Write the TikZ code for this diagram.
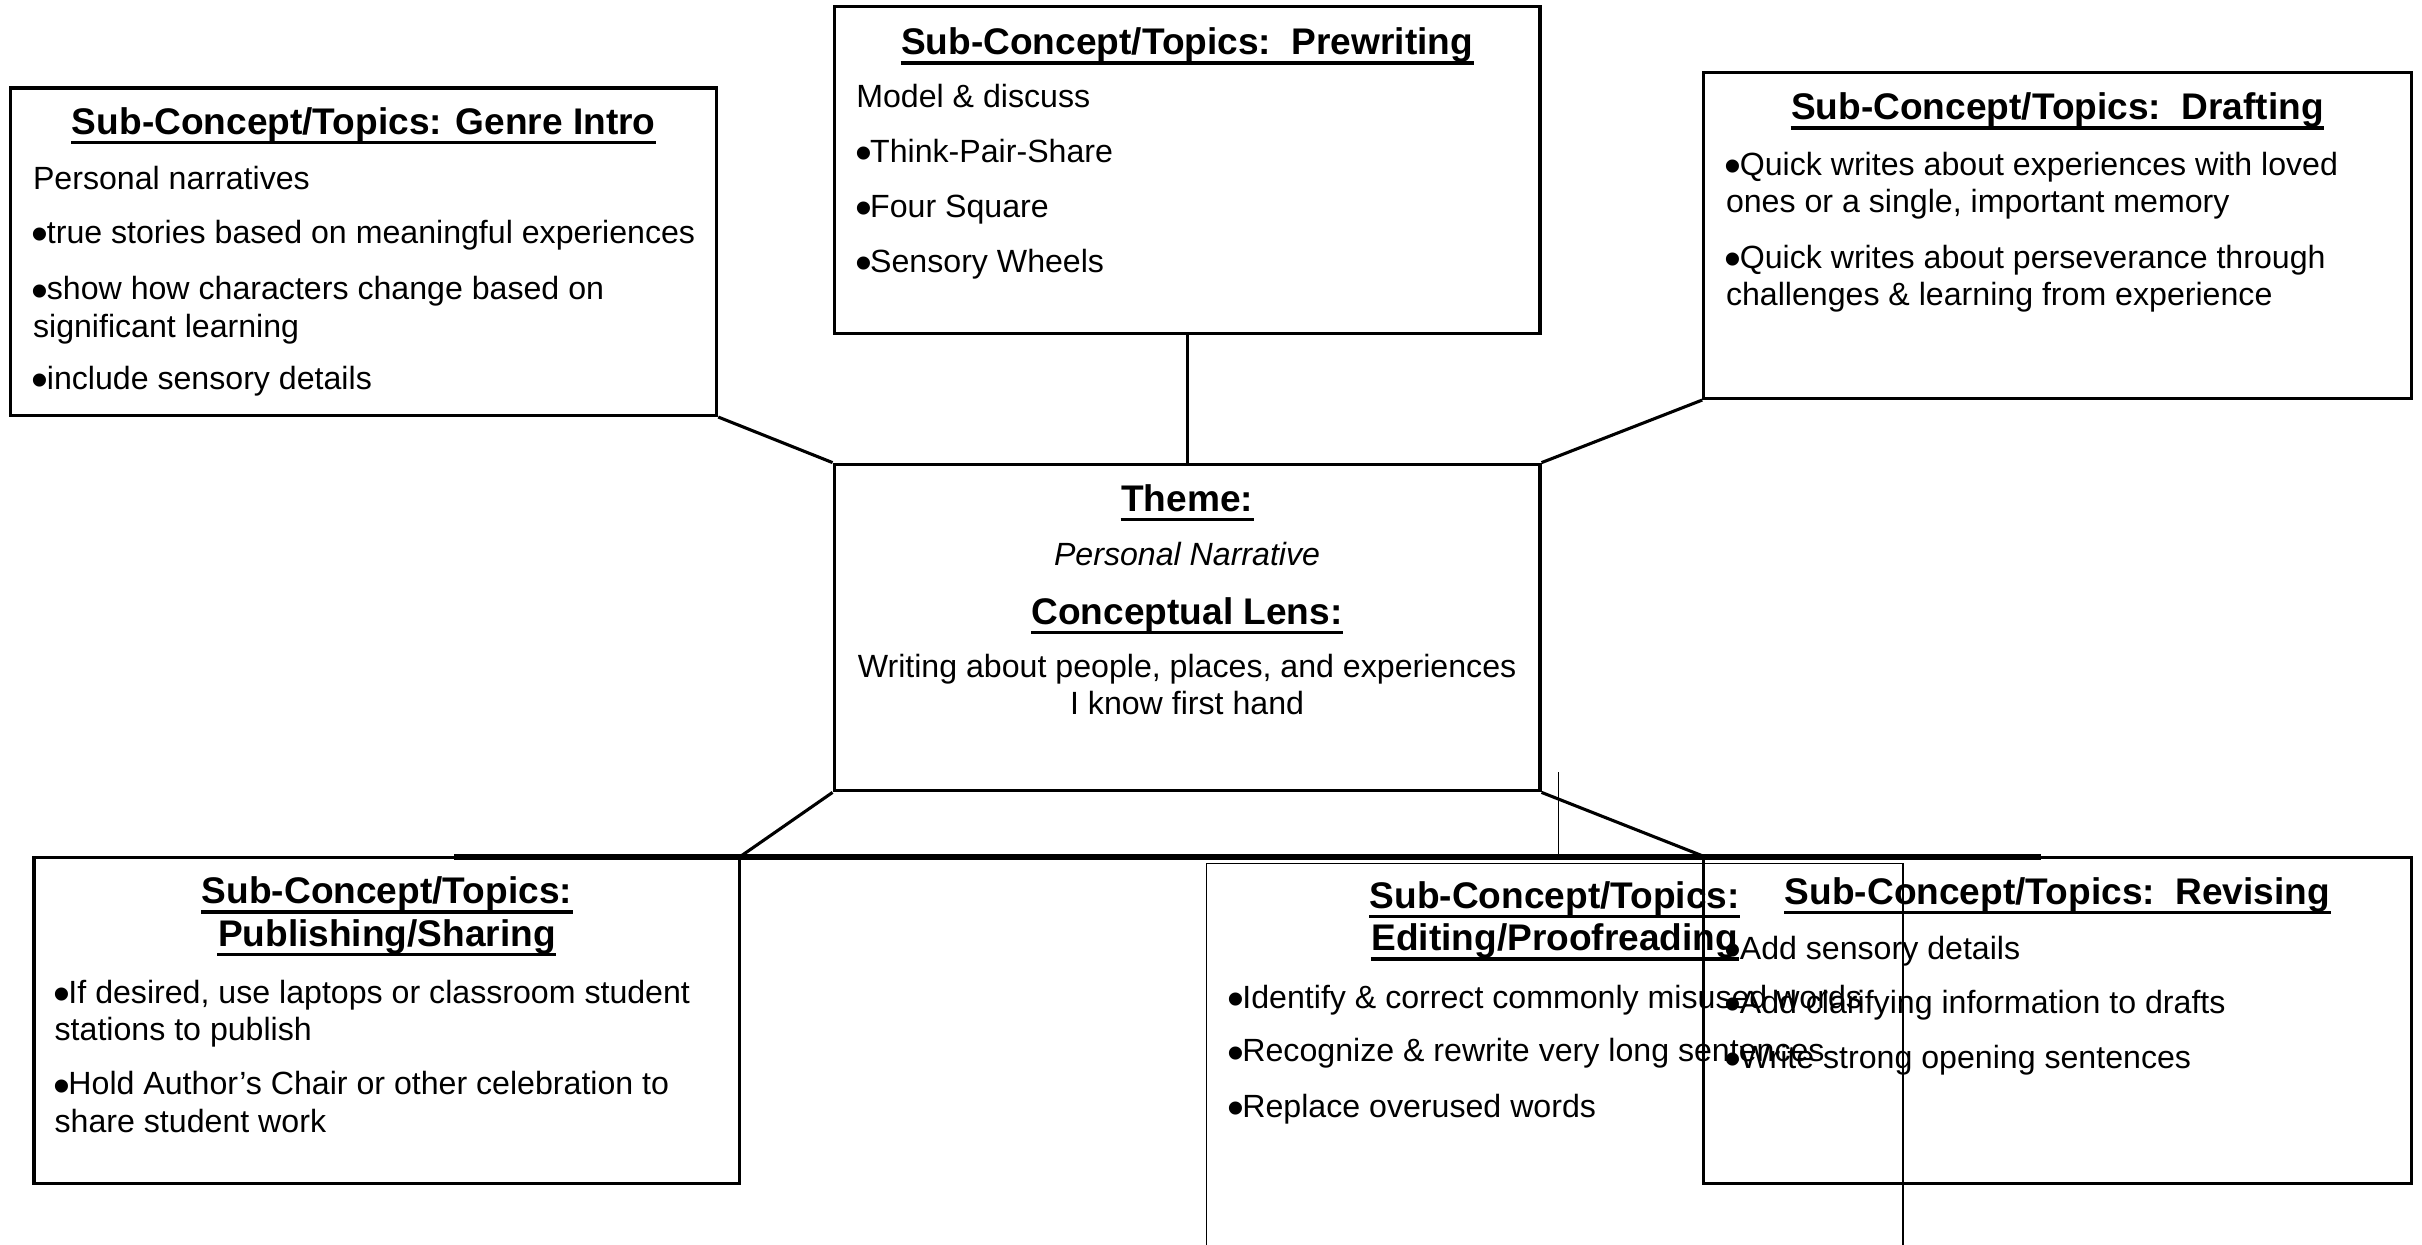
\documentclass[tikz,border=0pt]{standalone}
\usepackage{fontspec}
\setmainfont{Liberation Sans}
\usetikzlibrary{fit}

\newcommand{\headfont}{\fontsize{12}{13.8}\selectfont\bfseries}
\newcommand{\bodyfont}{\fontsize{10.4}{12}\selectfont}
% larger list bullet, centred on the x-height
\newcommand{\bul}{\makebox[0.43em][l]{\hspace{-0.04em}\raisebox{-2.3pt}{\scalebox{1.5}{•}}}}

\tikzset{
  frame/.style={draw=black, line width=1pt, inner sep=0pt},
  thinframe/.style={draw=black, line width=0.5pt},
  link/.style={draw=black, line width=1pt},
  heading/.style={anchor=base, inner sep=0pt, font=\headfont, yshift=-0.5pt},
  body/.style={anchor=base west, inner sep=0pt, font=\bodyfont, yshift=-0.6pt},
  cbody/.style={anchor=base, inner sep=0pt, font=\bodyfont, yshift=-0.6pt},
  underrule/.style={draw=black, line width=1.1pt},
}

\begin{document}
\begin{tikzpicture}[x=0.5pt, y=-0.5pt]
\useasboundingbox (0,0) rectangle (1568,806);
\clip (0,0) rectangle (1568,806);

% ---- boxes ----
\node[frame, fit={(7,57) (464,269)}] (genre) {};
\node[frame, fit={(540,4.5) (997,216)}] (prew) {};
\node[frame, fit={(1103,47) (1561,258)}] (draft) {};
\node[frame, fit={(540,300.5) (997,512)}] (theme) {};
\node[frame, fit={(22,555) (479,766)}] (publ) {};
\node[frame, fit={(1103,555) (1561,766)}] (revis) {};

% ---- editing box: thin outline running off the lower edge ----
\coordinate (edBL) at (781,830);
\coordinate (edTL) at (781,559);
\coordinate (edTR) at (1232,559);
\coordinate (edBR) at (1232,830);
\draw[thinframe] (edBL) -- (edTL) -- (edTR) -- (edBR);

% ---- connectors ----
\draw[link] (genre.south east) -- (theme.north west);
\draw[link] (prew.south) -- (theme.north);
\draw[link] (draft.south west) -- (theme.north east);
\draw[link] (theme.south west) -- (publ.north east);
\draw[link] (theme.south east) -- (revis.north west);

% heavy rule across the lower row and a short thin tick
\coordinate (ruleL) at (294,555);
\coordinate (ruleR) at (1321,555);
\draw[black, line width=1.8pt] (ruleL) -- (ruleR);
\coordinate (tickT) at (1009,500);
\coordinate (tickB) at (1009,554);
\draw[thinframe] (tickT) -- (tickB);

% ---- Genre Intro ----
\node[heading] (genreH) at (235.5,86) {Sub-Concept/Topics: Genre Intro};
\node[body] (g1) at (21,121.5) {Personal narratives};
\node[body] (g2) at (21,156.5) {\bul true stories based on meaningful experiences};
\node[body] (g3) at (21,193) {\bul show how characters change based on};
\node[body] (g4) at (21,217) {significant learning};
\node[body] (g5) at (21,251) {\bul include sensory details};

% ---- Prewriting ----
\node[heading] (prewH) at (768.5,34.5) {Sub-Concept/Topics:\ \ Prewriting};
\node[body] (p1) at (554,68.5) {Model \& discuss};
\node[body] (p2) at (554,104) {\bul Think-Pair-Share};
\node[body] (p3) at (554,139.5) {\bul Four Square};
\node[body] (p4) at (554,175) {\bul Sensory Wheels};

% ---- Drafting ----
\node[heading] (draftH) at (1332,76.5) {Sub-Concept/Topics:\ \ Drafting};
\node[body] (d1) at (1117,112.5) {\bul Quick writes about experiences with loved};
\node[body] (d2) at (1117,136.5) {ones or a single, important memory};
\node[body] (d3) at (1117,172.5) {\bul Quick writes about perseverance through};
\node[body] (d4) at (1117,196.5) {challenges \& learning from experience};

% ---- Theme ----
\node[heading] (themeH) at (768.5,330) {Theme:};
\node[cbody, font=\bodyfont\itshape] (t1) at (768.5,364.7) {Personal Narrative};
\node[heading] (lensH) at (768.5,403) {Conceptual Lens:};
\node[cbody] (t2) at (768.5,437.7) {Writing about people, places, and experiences};
\node[cbody] (t3) at (768.5,461.5) {I know first hand};

% ---- Publishing/Sharing ----
\node[heading] (publH1) at (250.5,584) {Sub-Concept/Topics:};
\node[heading] (publH2) at (250.5,611.8) {Publishing/Sharing};
\node[body] (s1) at (35,648.5) {\bul If desired, use laptops or classroom student};
\node[body] (s2) at (35,672.5) {stations to publish};
\node[body] (s3) at (35,707.7) {\bul Hold Author’s Chair or other celebration to};
\node[body] (s4) at (35,731.7) {share student work};

% ---- Editing/Proofreading ----
\node[heading] (editH1) at (1006.5,587) {Sub-Concept/Topics:};
\node[heading] (editH2) at (1006.5,614.5) {Editing/Proofreading};
\node[body] (e1) at (795,651.7) {\bul Identify \& correct commonly misused words};
\node[body] (e2) at (795,686.3) {\bul Recognize \& rewrite very long sentences};
\node[body] (e3) at (795,722) {\bul Replace overused words};

% ---- Revising ----
\node[heading] (revisH) at (1332,584.4) {Sub-Concept/Topics:\ \ Revising};
\node[body] (r1) at (1117,620) {\bul Add sensory details};
\node[body] (r2) at (1117,655) {\bul Add clarifying information to drafts};
\node[body] (r3) at (1117,690.6) {\bul Write strong opening sentences};

% ---- underlines of the headings ----
\foreach \h in {genreH, prewH, draftH, themeH, lensH, publH1, publH2, editH1, editH2, revisH}
  \draw[underrule] ([yshift=-2.65pt]\h.base west) -- ([yshift=-2.65pt]\h.base east);
\end{tikzpicture}
\end{document}
